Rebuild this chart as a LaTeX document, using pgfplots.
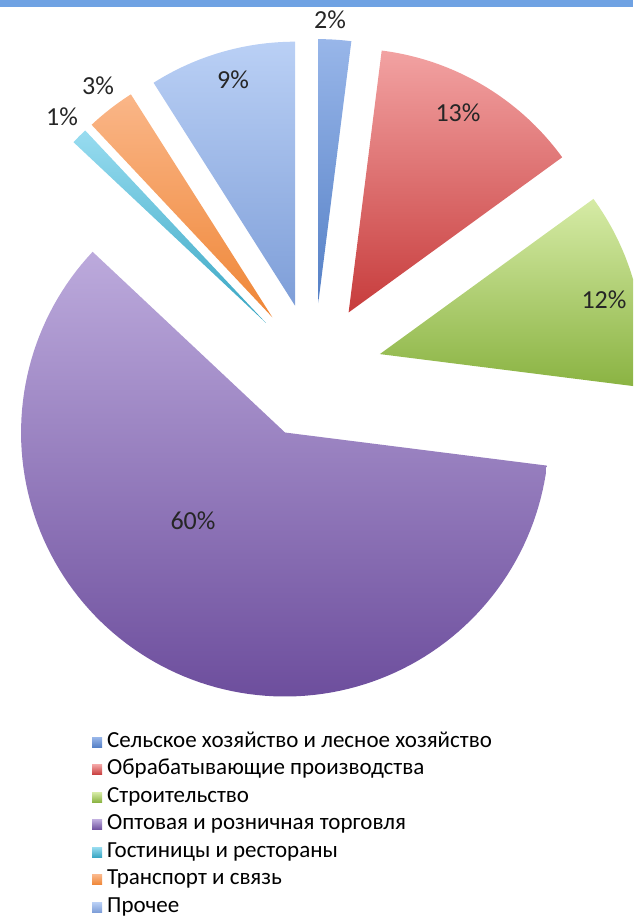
\documentclass[border=0pt]{standalone}
\usepackage{fontspec}
\setmainfont{Carlito}
\usepackage{pgfplots}
\pgfplotsset{compat=1.18}

\definecolor{bandblue}{HTML}{6FA2E3}
\definecolor{c1t}{HTML}{98B6E9}\definecolor{c1b}{HTML}{5580C6}
\definecolor{c2t}{HTML}{F2A2A2}\definecolor{c2b}{HTML}{C73C3C}
\definecolor{c3t}{HTML}{D6EBA6}\definecolor{c3b}{HTML}{8AB342}
\definecolor{c4t}{HTML}{BCAADC}\definecolor{c4b}{HTML}{6D4E9D}
\definecolor{c5t}{HTML}{98DCF0}\definecolor{c5b}{HTML}{38A6C3}
\definecolor{c6t}{HTML}{FAB688}\definecolor{c6b}{HTML}{EF8636}
\definecolor{c7t}{HTML}{BAD0F5}\definecolor{c7b}{HTML}{7E9ED8}

% centre (314,547), explode 68, radius 264 -- in picture units
\newcommand{\pieslice}[4]{% #1 cumulative % before, #2 value %, #3 top colour, #4 bottom colour
  \pgfmathsetmacro{\aS}{90-3.6*(#1)}%
  \pgfmathsetmacro{\aE}{90-3.6*(#1+#2)}%
  \pgfmathsetmacro{\aM}{(\aS+\aE)/2}%
  \pgfmathsetmacro{\ox}{314+68*cos(\aM)}%
  \pgfmathsetmacro{\oy}{547+68*sin(\aM)}%
  \edef\doslice{\noexpand\addplot[draw=none, top color=#3, bottom color=#4, domain=\aE:\aS, samples=120]
    ({\ox+264*cos(x)},{\oy+264*sin(x)}) -- (axis cs:\ox,\oy) -- cycle;}%
  \doslice
}

\begin{document}
\begin{tikzpicture}
\begin{axis}[
  scale only axis, width=633pt, height=918pt,
  xmin=0, xmax=633, ymin=0, ymax=918, enlargelimits=false,
  hide axis, clip=true,
  legend cell align=left,
  legend image code/.code={\path[#1] (0pt,-5pt) rectangle (10pt,5pt);},
  legend style={at={(axis cs:92,187)}, anchor=north west, draw=none, fill=none,
    inner sep=0pt, font=\fontsize{23}{27}\selectfont, row sep=5.5pt, column sep=4pt,
    nodes={inner sep=1pt, text depth=5pt, text height=15pt}},
]
\fill[bandblue] (axis cs:0,911) rectangle (axis cs:633,918);

\pieslice{0}{2}{c1t}{c1b}
\addlegendentry{Сельское хозяйство и лесное хозяйство}
\pieslice{2}{13}{c2t}{c2b}
\addlegendentry{Обрабатывающие производства}
\pieslice{15}{12}{c3t}{c3b}
\addlegendentry{Строительство}
\pieslice{27}{60}{c4t}{c4b}
\addlegendentry{Оптовая и розничная торговля}
\pieslice{87}{1}{c5t}{c5b}
\addlegendentry{Гостиницы и рестораны}
\pieslice{88}{3}{c6t}{c6b}
\addlegendentry{Транспорт и связь}
\pieslice{91}{9}{c7t}{c7b}
\addlegendentry{Прочее}

\begin{scope}[every node/.style={font=\fontsize{26}{30}\selectfont, text=black!85}]
\node at (axis cs:330,898) {2\%};
\node at (axis cs:458,805) {13\%};
\node at (axis cs:604,618) {12\%};
\node at (axis cs:193,397) {60\%};
\node at (axis cs:62,801) {1\%};
\node at (axis cs:98,832) {3\%};
\node at (axis cs:233,838) {9\%};
\end{scope}
\end{axis}
\pgfresetboundingbox
\useasboundingbox (current axis.south west) rectangle (current axis.north east);
\end{tikzpicture}
\end{document}
